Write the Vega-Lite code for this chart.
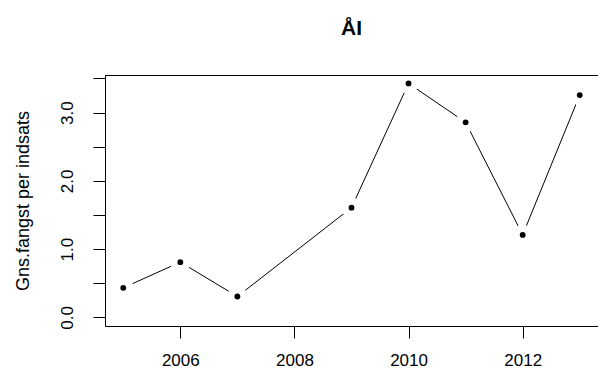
{
  "$schema": "https://vega.github.io/schema/vega-lite/v6.json",
  "autosize": "none",
  "width": 493,
  "height": 251,
  "padding": {"left": 105, "top": 75, "right": 0, "bottom": 52},
  "background": "white",
  "config": {
    "view": {"stroke": null},
    "font": "Liberation Sans",
    "axis": {"grid": false, "domainColor": "black", "tickColor": "black", "labelColor": "black", "titleColor": "black", "domainWidth": 1, "tickWidth": 1, "labelFont": "Liberation Sans", "titleFont": "Liberation Sans", "titleFontWeight": "normal"}
  },
  "title": {"text": "ÅI", "fontSize": 21, "fontWeight": "bold", "font": "Liberation Sans", "color": "black", "anchor": "middle", "offset": 34},
  "data": {"values": [
    {"year": 2005, "value": 0.434},
    {"year": 2006, "value": 0.81},
    {"year": 2007, "value": 0.307},
    {"year": 2009, "value": 1.608},
    {"year": 2010, "value": 3.427},
    {"year": 2011, "value": 2.857},
    {"year": 2012, "value": 1.209},
    {"year": 2013, "value": 3.256}
  ]},
  "encoding": {
    "x": {"field": "year", "type": "quantitative", "scale": {"domain": [2004.68, 2013.32], "nice": false, "zero": false},
      "axis": {"title": null, "values": [2006, 2008, 2010, 2012], "format": "d", "tickSize": 12, "labelPadding": 14, "labelFontSize": 17, "labelFlush": false, "domain": true}},
    "y": {"field": "value", "type": "quantitative", "scale": {"domain": [-0.125, 3.55], "nice": false, "zero": false},
      "axis": {"title": "Gns.fangst per indsats", "titleFontSize": 18, "titlePadding": 26, "values": [0, 0.5, 1, 1.5, 2, 2.5, 3, 3.5],
        "labelExpr": "datum.value % 1 === 0 ? format(datum.value, '.1f') : ''", "labelAngle": -90, "labelAlign": "center", "labelBaseline": "bottom",
        "tickSize": 12, "labelPadding": 17, "labelFontSize": 17, "domain": true}}
  },
  "layer": [
    {"mark": {"type": "line", "color": "black", "strokeWidth": 1}},
    {"mark": {"type": "point", "filled": true, "color": "white", "opacity": 1, "size": 420}},
    {"mark": {"type": "point", "filled": true, "color": "black", "opacity": 1, "size": 34}},
    {"mark": {"type": "rule", "color": "black", "strokeWidth": 1, "yOffset": 0.5}, "encoding": {"y": {"datum": 3.55}, "x": {"datum": 2004.68}, "x2": {"datum": 2013.32}}}
  ]
}
